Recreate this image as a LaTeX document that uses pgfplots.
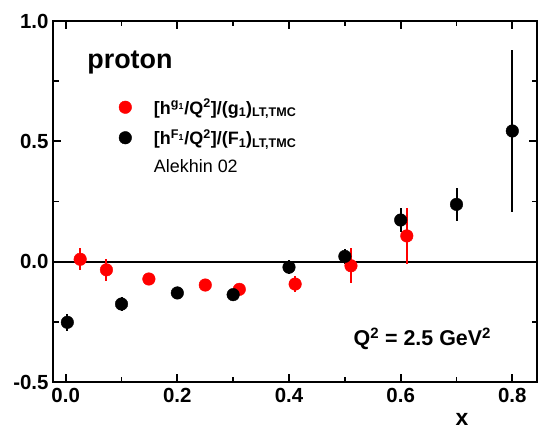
\documentclass[border=0pt]{standalone}
\usepackage{pgfplots}
\pgfplotsset{compat=1.18}
\usepackage{fontspec}
\setmainfont{Liberation Sans}
\setsansfont{Liberation Sans}
\definecolor{myred}{RGB}{255,0,0}
\begin{document}
\begin{tikzpicture}
\useasboundingbox (-53bp,-52bp) rectangle (485bp,382bp);
\begin{axis}[
  at={(0,0)}, anchor=south west,
  scale only axis,
  width=484bp, height=361bp,
  xmin=-0.0227, xmax=0.8442,
  ymin=-0.5, ymax=1.0,
  xtick={0,0.2,0.4,0.6,0.8},
  ytick={-0.5,0,0.5,1.0},
  minor xtick={0.1,0.3,0.5,0.7},
  minor ytick={-0.25,0.25,0.75},
  xticklabels={0.0,0.2,0.4,0.6,0.8},
  yticklabels={-0.5,0.0,0.5,1.0},
  tick align=inside,
  major tick length=8bp,
  minor tick length=5.5bp,
  tick style={black, line width=1.8bp},
  axis line style={line width=2bp},
  /pgf/number format/assume math mode=true,
  ticklabel style={font=\fontsize{20.5}{20.5}\selectfont\bfseries},
  xticklabel style={yshift=-3bp},
  yticklabel style={xshift=-1bp},
  xlabel={\textbf{x}},
  xlabel style={font=\fontsize{23}{23}\selectfont\bfseries, at={(axis description cs:0.845,0)}, anchor=north, yshift=-28bp},
  legend cell align=left,
  legend style={draw=none, fill=none, at={(axis description cs:0.131,0.79)}, anchor=north west,
    font=\fontsize{18}{20}\selectfont, row sep=10bp, inner sep=0pt},
  legend image code/.code={\draw[#1] plot coordinates {(0.3cm,0cm)}; \path (0cm,0cm) (35bp,0cm);},
  clip=false,
]
\draw[black, line width=2bp] (rel axis cs:0,0) rectangle (rel axis cs:1,1);
\pgfplotsinvokeforeach{0,0.2,0.4,0.6,0.8}{
  \draw[black, line width=1.8bp] (axis cs:#1,-0.5) -- ++(0bp,8bp);
  \draw[black, line width=1.8bp] (axis cs:#1,1.0) -- ++(0bp,-8bp);
}
\pgfplotsinvokeforeach{0.1,0.3,0.5,0.7}{
  \draw[black, line width=1.8bp] (axis cs:#1,-0.5) -- ++(0bp,5.5bp);
  \draw[black, line width=1.8bp] (axis cs:#1,1.0) -- ++(0bp,-5.5bp);
}
\pgfplotsinvokeforeach{-0.5,0,0.5,1.0}{
  \draw[black, line width=1.8bp] (rel axis cs:0,{(#1+0.5)/1.5}) -- ++(8bp,0bp);
  \draw[black, line width=1.8bp] (rel axis cs:1,{(#1+0.5)/1.5}) -- ++(-8bp,0bp);
}
\pgfplotsinvokeforeach{-0.25,0.25,0.75}{
  \draw[black, line width=1.8bp] (rel axis cs:0,{(#1+0.5)/1.5}) -- ++(5.5bp,0bp);
  \draw[black, line width=1.8bp] (rel axis cs:1,{(#1+0.5)/1.5}) -- ++(-5.5bp,0bp);
}
\addplot[black, line width=2bp, forget plot] coordinates {(-0.0227,0) (0.8442,0)};
\addplot[only marks, mark=*, mark size=6.3bp, color=myred, mark options={fill=myred, draw=myred},
  error bars/.cd, y dir=both, y explicit, error mark=none,
  error bar style={line width=2bp, myred}]
  coordinates {
  (0.026,0.010) +- (0,0.046)
  (0.073,-0.034) +- (0,0.046)
  (0.149,-0.072) +- (0,0.015)
  (0.25,-0.097) +- (0,0.012)
  (0.311,-0.115) +- (0,0.015)
  (0.411,-0.093) +- (0,0.033)
  (0.511,-0.017) +- (0,0.072)
  (0.611,0.107) +- (0,0.116)
  };
\addlegendentry{\bfseries [h\textsuperscript{g\textsubscript{1}}/Q\textsuperscript{2}]/(g\textsubscript{1})\textsubscript{LT,TMC}}
\addplot[only marks, mark=*, mark size=6.3bp, color=black, mark options={fill=black, draw=black},
  error bars/.cd, y dir=both, y explicit, error mark=none,
  error bar style={line width=2bp, black}]
  coordinates {
  (0.003,-0.252) +- (0,0.035)
  (0.1,-0.176) +- (0,0.030)
  (0.2,-0.130) +- (0,0.022)
  (0.3,-0.137) +- (0,0.018)
  (0.4,-0.023) +- (0,0.030)
  (0.5,0.022) +- (0,0.030)
  (0.6,0.173) +- (0,0.050)
  (0.7,0.238) +- (0,0.068)
  (0.8,0.543) +- (0,0.335)
  };
\addlegendentry{\bfseries [h\textsuperscript{F\textsubscript{1}}/Q\textsuperscript{2}]/(F\textsubscript{1})\textsubscript{LT,TMC}}
\addlegendimage{empty legend}
\addlegendentry{Alekhin 02}
\node[font=\fontsize{27}{27}\selectfont\bfseries] at (axis description cs:0.159,0.886) {proton};
\node[font=\fontsize{21.5}{21.5}\selectfont\bfseries] at (axis description cs:0.763,0.12) {Q\textsuperscript{2} = 2.5 GeV\textsuperscript{2}};
\end{axis}
\end{tikzpicture}
\end{document}
